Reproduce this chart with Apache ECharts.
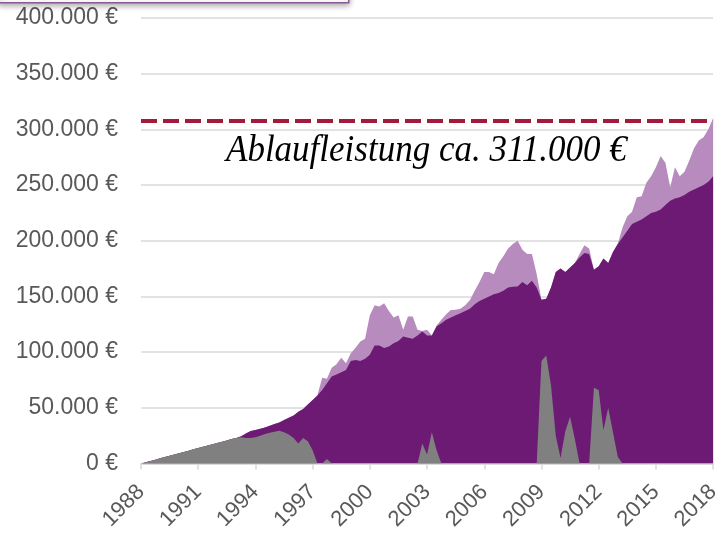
<!DOCTYPE html>
<html>
<head>
<meta charset="utf-8">
<script src="https://cdn.jsdelivr.net/npm/echarts@6/dist/echarts.min.js"></script>
<style>
  html, body { margin: 0; padding: 0; background: #fff; }
  #chart { width: 723px; height: 533px; }
</style>
</head>
<body>
<div id="chart"></div>
<script>
// Zeitachse: Quartale 1988 - 2018
var dates = [];
for (var i = 0; i <= 120; i++) dates.push(1988 + i * 0.25);

// Werte in Tausend Euro
// dunkles Lila
var dunkel = [
  0, 1.1, 2.2, 3.3, 4.6, 5.8, 6.9, 8.1, 9.2, 10.4, 11.5, 12.7,
  13.8, 15.0, 16.1, 17.3, 18.4, 19.6, 20.7, 21.9, 23.0, 24.5, 27, 29.2,
  30, 31.2, 32.4, 33.8, 35.5, 36.8, 39, 41, 43, 46.5, 49, 53,
  57, 61, 66, 72, 78, 80, 82, 84, 92, 93, 92, 94,
  97.6, 106, 106, 103.6, 105, 108, 110, 114, 113, 112, 115, 118.5,
  115, 115, 123, 126, 129, 131, 133, 135, 137, 139, 143, 146,
  148, 150, 152, 153, 155, 158, 158.7, 159, 163, 160, 164, 158,
  147, 148, 158, 172, 175, 172, 176, 180, 185, 189, 188, 174,
  177, 184, 180, 190, 197, 203, 209, 215, 217, 219, 222, 225,
  226, 228, 232, 236, 238, 239, 241, 244, 246, 248, 250, 253,
  258
];
// helles Lila
var hell = [
  0, 1.1, 2.2, 3.3, 4.6, 5.8, 6.9, 8.1, 9.2, 10.4, 11.5, 12.7,
  13.8, 15.0, 16.1, 17.3, 18.4, 19.6, 20.7, 21.9, 23.0, 24.5, 27, 29.2,
  30, 31.2, 32.4, 33.8, 35.5, 36.8, 39, 41, 43, 46.5, 49, 53,
  57, 61, 77, 76, 86, 89, 95, 90, 99, 104, 109.5, 112,
  133, 142, 141, 143.8, 137, 131, 133, 120, 132, 132, 120, 119,
  120, 115, 124, 129, 134, 137.8, 138, 139, 142, 146.7, 155, 163,
  172, 172, 170, 180, 186, 193, 197, 200, 192, 188, 188, 170,
  147, 148, 158, 172, 175, 172, 176, 180, 188, 196, 193, 174,
  177, 184, 180, 190, 197, 212, 222, 226, 239, 240, 252, 258,
  266, 276, 270, 248, 266, 258, 262, 272, 283, 290, 293, 300,
  310
];
// grau
var grau = [
  0, 1.1, 2.2, 3.3, 4.6, 5.8, 6.9, 8.1, 9.2, 10.4, 11.5, 12.7,
  13.8, 15.0, 16.1, 17.3, 18.4, 19.6, 20.7, 21.9, 23.0, 23.5, 23, 23,
  23.5, 25, 26.5, 27.5, 28.5, 29.5, 28, 26, 23, 18, 23, 20,
  12, 0, 0, 4, 0, 0, 0, 0, 0, 0, 0, 0,
  0, 0, 0, 0, 0, 0, 0, 0, 0, 0, 0, 18,
  8, 28, 12, 0, 0, 0, 0, 0, 0, 0, 0, 0,
  0, 0, 0, 0, 0, 0, 0, 0, 0, 0, 0, 0,
  92, 97, 70, 25, 5, 29, 42, 22, 0, 0, 0, 68,
  66, 30, 50, 28, 6, 0, 0, 0, 0, 0, 0, 0,
  0, 0, 0, 0, 0, 0, 0, 0, 0, 0, 0, 0,
  0
];
var ablauf = 308000;
var yTicks = [0, 50000, 100000, 150000, 200000, 250000, 300000, 350000, 400000];

function pairs(arr) {
  return dates.map(function (t, i) { return [t, arr[i] * 1000]; });
}
function euro(v) {
  if (v === 0) return '0 €';
  return (v / 1000) + '.000 €';
}

var myChart = echarts.init(document.getElementById('chart'));
myChart.setOption({
  animation: false,
  grid: { left: 141, right: 5, top: 18, bottom: 67 },
  xAxis: {
    type: 'value',
    min: 1988,
    max: 2018,
    interval: 3,
    splitLine: { show: false },
    axisLine: { show: true, lineStyle: { color: '#D9D9D9', width: 1.5 } },
    axisTick: { show: true, length: 6, lineStyle: { color: '#D9D9D9', width: 1.5 } },
    axisLabel: {
      rotate: 45,
      fontSize: 22,
      color: '#595959',
      fontFamily: 'Liberation Sans, Arial, sans-serif',
      margin: 25,
      formatter: function (v) { return String(v); }
    }
  },
  yAxis: {
    type: 'value',
    min: yTicks[0],
    max: yTicks[yTicks.length - 1],
    interval: 50000,
    axisLine: { show: false },
    axisTick: { show: false },
    splitLine: { lineStyle: { color: '#D9D9D9', width: 1.5 } },
    axisLabel: {
      fontSize: 23,
      color: '#595959',
      fontFamily: 'Liberation Sans, Arial, sans-serif',
      margin: 23,
      formatter: euro
    }
  },
  series: [
    {
      name: 'hell',
      type: 'line',
      data: pairs(hell),
      symbol: 'none',
      lineStyle: { width: 0 },
      areaStyle: { color: '#B78BBE', opacity: 1 },
      z: 1,
      markLine: {
        silent: true,
        symbol: 'none',
        label: { show: false },
        lineStyle: { color: '#A31A3C', width: 4, type: [16, 6] },
        data: [{ yAxis: ablauf }]
      }
    },
    {
      name: 'dunkel',
      type: 'line',
      data: pairs(dunkel),
      symbol: 'none',
      lineStyle: { width: 0 },
      areaStyle: { color: '#6C1A73', opacity: 1 },
      z: 2
    },
    {
      name: 'grau',
      type: 'line',
      data: pairs(grau),
      symbol: 'none',
      lineStyle: { width: 0 },
      areaStyle: { color: '#808080', opacity: 1 },
      z: 3
    }
  ],
  graphic: [
    {
      type: 'rect',
      left: -2,
      top: -10,
      shape: { width: 350, height: 12 },
      style: { fill: '#fff', stroke: '#8A5C96', lineWidth: 1.5, shadowBlur: 6, shadowColor: 'rgba(0,0,0,0.35)', shadowOffsetY: 2 },
      z: 10
    },
    {
      type: 'text',
      x: 226,
      y: 132,
      scaleY: 1.1,
      style: {
        text: 'Ablaufleistung ca. 311.000 €',
        font: 'italic 35px "Liberation Serif", "Times New Roman", serif',
        fill: '#000'
      },
      z: 10
    }
  ]
});
</script>
</body>
</html>
